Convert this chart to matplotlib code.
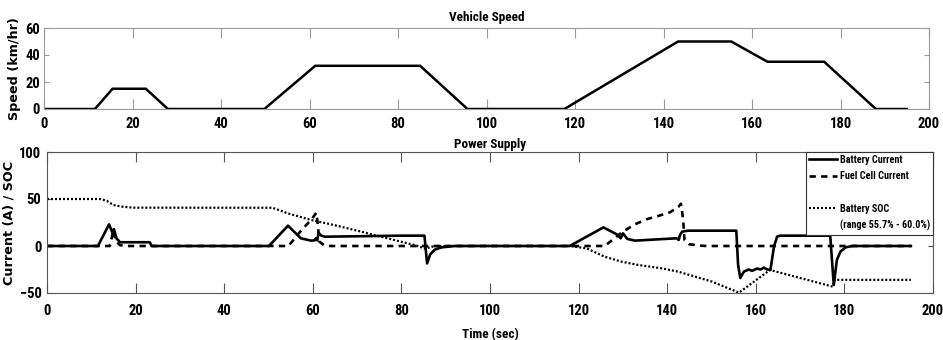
import matplotlib
matplotlib.use("Agg")
import matplotlib.pyplot as plt
from matplotlib.lines import Line2D
from matplotlib import font_manager

# ---------------- data ----------------
speed_time = [0, 11.5, 15.5, 23.0, 28.0, 49.8, 61.3, 85.0, 95.7, 117.6,
              143.3, 155.3, 163.5, 176.3, 188.0, 195.0]
speed_kmh = [0, 0, 15, 15, 0, 0, 32, 32, 0, 0, 50, 50, 35, 35, 0, 0]

battery_time = [0, 11.5, 14.0, 14.8, 15.1, 15.7, 16.5, 23.2, 23.6,
                50.1, 54.4, 57.3, 59.6, 60.4, 60.7, 61.0, 61.3, 61.9, 62.8,
                79.9, 85.2, 85.8, 86.5, 87.5, 89.0, 92.0,
                118.0, 125.6, 128.9, 129.5, 130.0, 131.0, 132.7, 142.1,
                142.6, 142.9, 143.4, 144.7, 155.6, 156.0, 156.5, 157.3,
                158.4, 159.2, 160.3, 161.1, 161.8, 162.6, 163.3, 164.1,
                164.8, 165.5, 176.8, 177.6, 178.3, 179.1, 180.3, 181.8, 195.0]
battery_current = [0, 0, 23, 14, 18, 8, 4, 4, 0,
                   0, 21.6, 8.2, 5.7, 6, 8.2, 6, 14, 11, 9.9,
                   11, 11, -18.5, -9, -4, -1.5, 0,
                   0, 19.8, 11.7, 8.2, 13.5, 7.5, 5.7, 8.2,
                   6.5, 12, 15.3, 16.3, 16.3, -20, -34, -27.3,
                   -25, -26.4, -24, -25, -23, -25, -25.5, -0.7,
                   9.9, 11, 11, -41.5, -14.9, -6, -1.4, 0, 0]

fuelcell_time = [0, 14.2, 15.0, 15.5, 16.5, 17.5, 54.5, 57.6, 59.6, 60.8,
                 61.1, 61.5, 62.5, 64.0, 125.9, 127.4, 130.0, 132.7, 135.3,
                 138.0, 140.6, 142.5, 143.1, 143.3, 143.6, 143.9, 144.9,
                 147.0, 149.0, 195.0]
fuelcell_current = [0, 0, 17, 5, 1, 0, 0, 17.7, 27.7, 35.4,
                    24, 4.6, 1, 0, 0, 5.6, 15.3, 23, 28.4,
                    32, 35.8, 41.5, 45, 39, 27.7, 6.4, 2,
                    0.5, 0, 0]

soc_time = [0, 12.0, 13.5, 15.0, 17.0, 19.5, 50.9, 54.3, 59.6, 64.8, 70.9,
            75.4, 79.9, 83.0, 85.5, 86.5, 88.0, 118.0, 121.8, 125.9, 129.7,
            133.5, 138.8, 142.5, 146.3, 150.1, 156.2, 163.2, 177.4, 177.8,
            195.0]
soc_scaled = [50, 50, 48, 43.6, 41.8, 40.8, 40.7, 34.8, 27.7, 22.3, 15.3,
              9.9, 4.6, 1, -3, -1, 0, 0, -2.5, -11.4, -16.7,
              -20.2, -23.8, -27.3, -32.6, -37.9, -49.6, -25.5, -43.3, -36,
              -36]

time_ticks = list(range(0, 201, 20))
speed_ticks = [0, 20, 40, 60]
current_ticks = [-50, 0, 50, 100]

legend_labels = ["Battery Current", "Fuel Cell Current", " ",
                 "Battery SOC", "(range 55.7% - 60.0%)"]

# ---------------- fonts ----------------
# prefer a narrow sans face for ticks, titles and legend when one exists
fonts = font_manager.fontManager.ttflist
narrow = None
for wanted in ["Liberation Sans Narrow", "Arial Narrow", "Roboto Condensed",
               "Open Sans Condensed", "DejaVu Sans Condensed", "Noto Sans Condensed"]:
    if any(f.name == wanted for f in fonts):
        narrow = wanted
        break
if narrow is None:
    cond = [f.name for f in fonts
            if str(f.stretch) in ("condensed", "semi-condensed", "extra-condensed")
            and "Mono" not in f.name]
    narrow = cond[0] if cond else "Liberation Sans"
is_narrow = narrow != "Liberation Sans"

plt.rcParams["font.family"] = [narrow, "DejaVu Sans"]
plt.rcParams["font.weight"] = "bold"
label_font = dict(family=["DejaVu Sans"], weight="bold", size=9.2)
tick_size = 10.5 if is_narrow else 9.5
legend_size = 7.3 if is_narrow else 6.8
title_size = 9.5 if is_narrow else 8.8

W, H = 943, 340
fig = plt.figure(figsize=(W / 100, H / 100), dpi=100)
fig.patch.set_facecolor("white")

# ---------------- vehicle speed ----------------
ax1 = fig.add_axes([44 / W, 1 - 109 / H, (929 - 44) / W, (109 - 28) / H])
ax1.plot(speed_time, speed_kmh, color="black", lw=1.8, solid_joinstyle="miter")
ax1.set_xlim(0, 200)
ax1.set_ylim(0, 60)
ax1.set_xticks(time_ticks)
ax1.set_yticks(speed_ticks)
for s in ax1.spines.values():
    s.set_color("#9a9a9a")
    s.set_linewidth(0.8)
ax1.tick_params(axis="x", direction="in", length=7, width=0.8, color="#9a9a9a",
                top=True, bottom=True, pad=6, labelsize=tick_size)
ax1.tick_params(axis="y", direction="in", length=3.5, width=0.8, color="#9a9a9a",
                left=True, right=True, pad=3, labelsize=tick_size)
ax1.set_title("Vehicle Speed", fontsize=title_size, fontweight="bold", pad=5)
ax1.set_ylabel("Speed (km/hr)", fontdict=label_font, labelpad=3)

# ---------------- power supply ----------------
ax2 = fig.add_axes([47 / W, 1 - 293 / H, (933 - 47) / W, (293 - 152) / H])
h_batt, = ax2.plot(battery_time, battery_current, color="black", lw=1.9,
                   label=legend_labels[0])
h_fc, = ax2.plot(fuelcell_time, fuelcell_current, color="black", lw=1.9,
                 linestyle=(0, (2.4, 2.0)), label=legend_labels[1])
h_soc, = ax2.plot(soc_time, soc_scaled, color="black", lw=1.6,
                  linestyle=(0, (0.9, 0.9)), label=legend_labels[3])
ax2.set_xlim(0, 200)
ax2.set_ylim(-50, 100)
ax2.set_xticks(time_ticks)
ax2.set_yticks(current_ticks)
for s in ax2.spines.values():
    s.set_color("#555555")
    s.set_linewidth(0.8)
ax2.tick_params(axis="x", direction="in", length=7.5, width=0.8, color="#555555",
                top=True, bottom=True, pad=8, labelsize=tick_size)
ax2.tick_params(axis="y", direction="in", length=3.5, width=0.8, color="#555555",
                left=True, right=True, pad=4, labelsize=tick_size)
ax2.set_title("Power Supply", fontsize=title_size, fontweight="bold", pad=3)
ax2.set_xlabel("Time (sec)", fontsize=title_size, fontweight="bold", labelpad=7)
ax2.set_ylabel("Current (A) / SOC", fontdict=label_font, labelpad=3)

blank = Line2D([], [], linestyle="none")
blank2 = Line2D([], [], linestyle="none")
leg = ax2.legend([h_batt, h_fc, blank, h_soc, blank2], legend_labels,
                 loc="upper right", borderaxespad=0, frameon=True, fancybox=False,
                 framealpha=1, edgecolor="#333333",
                 handlelength=2.7, handletextpad=0.3, labelspacing=0.62,
                 borderpad=0.3, prop=dict(family=[narrow, "DejaVu Sans"],
                                          weight="bold", size=legend_size))
leg.get_frame().set_linewidth(0.8)

fig.savefig("out.png", dpi=100, facecolor="white")
